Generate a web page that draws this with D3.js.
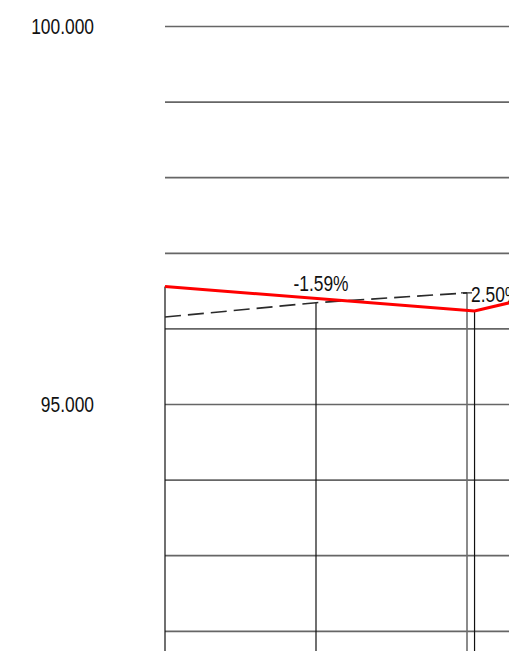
<!DOCTYPE html>
<html>
<head>
<meta charset="utf-8">
<script src="https://cdn.jsdelivr.net/npm/d3@7"></script>
<style>
  body { margin: 0; background: #fff; }
  text { font-family: "Liberation Sans", Arial, sans-serif; fill: #111; }
</style>
</head>
<body>
<svg id="chart" width="509" height="651"></svg>
<script>
  //  1] Data ----------------------------------------//

  // x in step units (20 units between main columns)
  const redT = [0, 41, 61];
  const redValues = [96.554, 96.23, 96.70];

  const dashT = [0, 20, 40];
  const dashValues = [96.15, 96.34, 96.47];

  // drop lines from the marks down to the bottom
  const dropT = [0, 20, 40, 41];
  const dropValues = [96.554, 96.34, 96.47, 96.23];
  const dropKind = ["black", "black", "gray", "black"];

  const gridValues = [92, 93, 94, 95, 96, 97, 98, 99, 100];
  const labelValues = [95, 100];

  const noteT = [20, 40];
  const noteValues = [96.554 - (96.554 - 96.23) * 20 / 41, 96.47];
  const noteText = ["-1.59%", "2.50%"];

  const width = 509;
  const height = 651;
  const squeeze = 0.79; // the font in the picture is narrow

  //  2] Scales ----------------------------------------//
  const xScale = d3.scaleLinear().domain([0, 20]).range([165, 316]);
  const yScale = d3.scaleLinear().domain([95, 100]).range([404, 26]);

  const svg = d3.select("#chart");

  //  3] Gridlines -------------------------------------//
  const grid = d3.axisRight(yScale)
    .tickValues(gridValues)
    .tickSize(width - xScale(0))
    .tickFormat("");
  svg.append("g")
    .attr("transform", `translate(${xScale(0)},0)`)
    .call(grid)
    .call(g => g.select(".domain").remove())
    .call(g => g.selectAll("line").attr("stroke", "#666").attr("stroke-width", 1.7));

  //  4] Y labels --------------------------------------//
  const yAxis = d3.axisLeft(yScale)
    .tickValues(labelValues)
    .tickSize(0)
    .tickPadding(0)
    .tickFormat(d3.format(".3f"));
  svg.append("g")
    .attr("transform", "translate(94,0)")
    .call(yAxis)
    .call(g => g.select(".domain").remove())
    .call(g => g.selectAll("text")
      .attr("font-size", 22)
      .attr("font-family", null)
      .attr("fill", "#111")
      .attr("x", 0)
      .attr("dy", "0.36em")
      .attr("transform", `scale(${squeeze},1)`));

  //  5] Drop lines ------------------------------------//
  svg.append("g").selectAll("line")
    .data(dropT)
    .join("line")
    .attr("x1", d => xScale(d))
    .attr("x2", d => xScale(d))
    .attr("y1", (d, i) => yScale(dropValues[i]))
    .attr("y2", height)
    .attr("stroke", (d, i) => dropKind[i] === "gray" ? "#6e6e6e" : "#111")
    .attr("stroke-width", (d, i) => dropKind[i] === "gray" ? 1.6 : 1.2);

  // small cap on the gray one
  const capI = dropKind.indexOf("gray");
  svg.append("line")
    .attr("x1", xScale(dropT[capI]) - 6)
    .attr("x2", xScale(dropT[capI]) + 5)
    .attr("y1", yScale(dropValues[capI]))
    .attr("y2", yScale(dropValues[capI]))
    .attr("stroke", "#333")
    .attr("stroke-width", 1.3);

  //  6] Lines -----------------------------------------//
  const dashLine = d3.line()
    .x((d, i) => xScale(dashT[i]))
    .y(d => yScale(d));
  svg.append("path")
    .attr("d", dashLine(dashValues))
    .attr("fill", "none")
    .attr("stroke", "#2a2a2a")
    .attr("stroke-width", 1.6)
    .attr("stroke-dasharray", "16,7");

  const redLine = d3.line()
    .x((d, i) => xScale(redT[i]))
    .y(d => yScale(d));
  svg.append("path")
    .attr("d", redLine(redValues))
    .attr("fill", "none")
    .attr("stroke", "#ff0000")
    .attr("stroke-width", 3);

  //  7] Notes -----------------------------------------//
  svg.append("g").selectAll("text")
    .data(noteText)
    .join("text")
    .attr("transform", (d, i) => {
      const x = xScale(noteT[i]) + (i === 0 ? 5 : 4);
      const y = yScale(noteValues[i]) + (i === 0 ? -7 : 9);
      return `translate(${x},${y}) scale(${squeeze},1)`;
    })
    .attr("text-anchor", (d, i) => i === 0 ? "middle" : "start")
    .attr("font-size", 22)
    .text(d => d);
</script>
</body>
</html>
